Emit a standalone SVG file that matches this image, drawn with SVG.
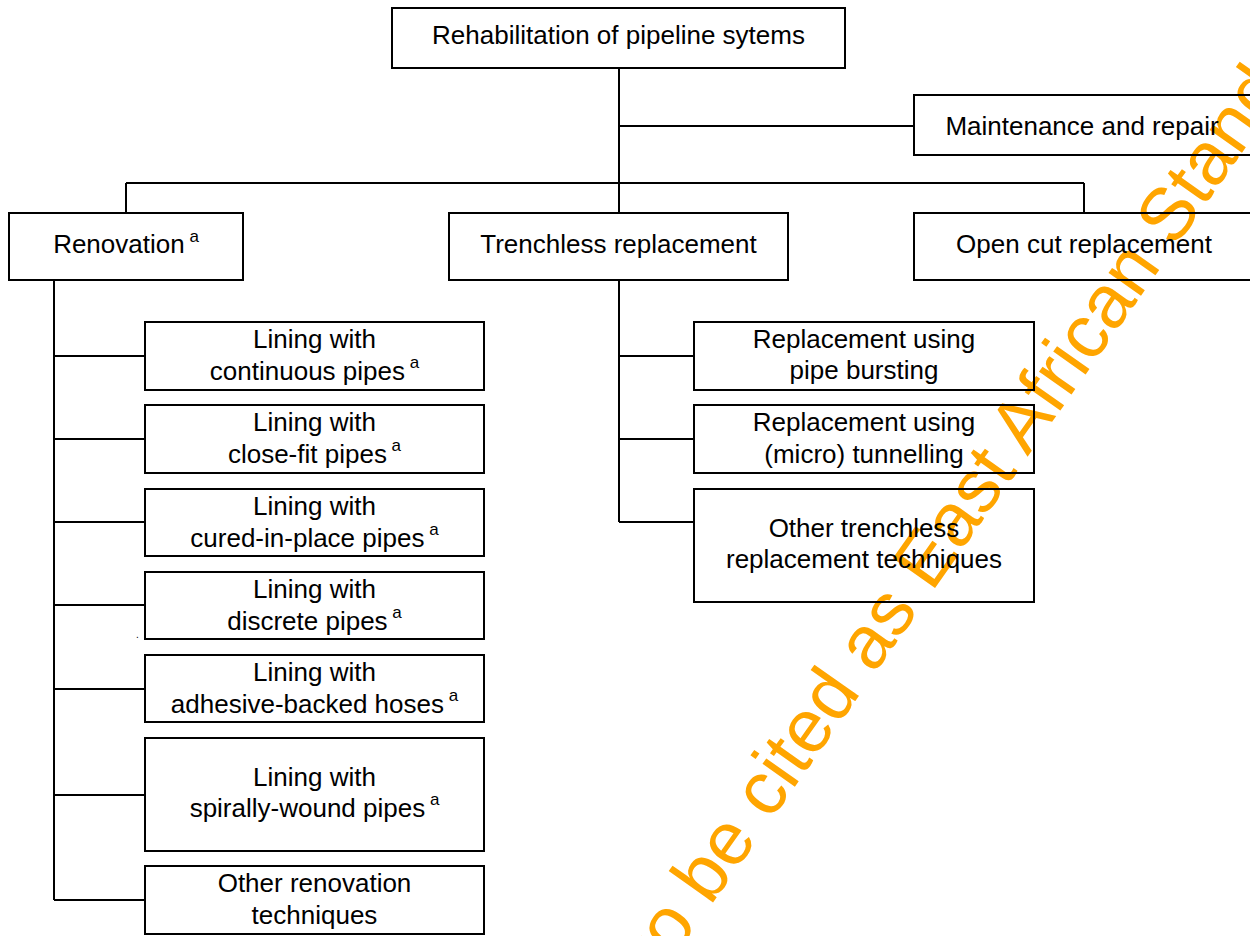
<svg xmlns="http://www.w3.org/2000/svg" width="1250" height="936" viewBox="0 0 1250 936">
<style>
.box{fill:none;stroke:#000;stroke-width:2}
.ln{fill:none;stroke:#000;stroke-width:2}
.t{font-family:"Liberation Sans",Arial,sans-serif;font-size:26px;fill:#000;text-anchor:middle}
.sup{font-size:17px}
.wm{font-family:"Liberation Sans",Arial,sans-serif;font-size:75px;fill:#FFA500}
</style>
<rect width="1250" height="936" fill="#fff"/>
<text class="wm" x="583" y="1087" transform="rotate(-54.8 583 1087)">Not to be cited as East African Standard</text>
<g id="connectors">
<path class="ln" d="M619 68V213M619 126H914M126 183H1084M126 183V213M1084 183V213"/>
<path class="ln" d="M54 280V900M54 356H145M54 439H145M54 522H145M54 605H145M54 689H145M54 795H145M54 900H145"/>
<path class="ln" d="M619 280V522M619 356H694M619 439H694M619 522H694"/>
</g>
<g id="n-root"><rect class="box" x="392" y="8" width="453" height="60"/><text class="t" x="618.5" y="44">Rehabilitation of pipeline sytems</text></g>
<g id="n-maint"><rect class="box" x="914" y="95" width="340" height="60"/><text class="t" x="1082" y="135">Maintenance and repair</text></g>
<g id="n-renov"><rect class="box" x="9" y="213" width="234" height="67"/><text class="t" x="126" y="253">Renovation<tspan class="sup" dy="-11"> a</tspan></text></g>
<g id="n-trench"><rect class="box" x="449" y="213" width="339" height="67"/><text class="t" x="618.5" y="253">Trenchless replacement</text></g>
<g id="n-open"><rect class="box" x="914" y="213" width="340" height="67"/><text class="t" x="1084" y="253">Open cut replacement</text></g>
<g id="n-l1"><rect class="box" x="145" y="322" width="339" height="68"/><text class="t" x="314.5" y="348">Lining with</text><text class="t" x="314.5" y="380">continuous pipes<tspan class="sup" dy="-12"> a</tspan></text></g>
<g id="n-l2"><rect class="box" x="145" y="405" width="339" height="68"/><text class="t" x="314.5" y="431">Lining with</text><text class="t" x="314.5" y="463">close-fit pipes<tspan class="sup" dy="-12"> a</tspan></text></g>
<g id="n-l3"><rect class="box" x="145" y="489" width="339" height="67"/><text class="t" x="314.5" y="515">Lining with</text><text class="t" x="314.5" y="547">cured-in-place pipes<tspan class="sup" dy="-12"> a</tspan></text></g>
<g id="n-l4"><rect class="box" x="145" y="572" width="339" height="67"/><text class="t" x="314.5" y="598">Lining with</text><text class="t" x="314.5" y="630">discrete pipes<tspan class="sup" dy="-12"> a</tspan></text></g>
<g id="n-l5"><rect class="box" x="145" y="655" width="339" height="67"/><text class="t" x="314.5" y="681">Lining with</text><text class="t" x="314.5" y="713">adhesive-backed hoses<tspan class="sup" dy="-12"> a</tspan></text></g>
<g id="n-l6"><rect class="box" x="145" y="738" width="339" height="113"/><text class="t" x="314.5" y="786">Lining with</text><text class="t" x="314.5" y="817">spirally-wound pipes<tspan class="sup" dy="-12"> a</tspan></text></g>
<g id="n-l7"><rect class="box" x="145" y="866" width="339" height="68"/><text class="t" x="314.5" y="892">Other renovation</text><text class="t" x="314.5" y="924">techniques</text></g>
<g id="n-t1"><rect class="box" x="694" y="322" width="340" height="68"/><text class="t" x="864" y="348">Replacement using</text><text class="t" x="864" y="379">pipe bursting</text></g>
<g id="n-t2"><rect class="box" x="694" y="405" width="340" height="68"/><text class="t" x="864" y="431">Replacement using</text><text class="t" x="864" y="463">(micro) tunnelling</text></g>
<g id="n-t3"><rect class="box" x="694" y="489" width="340" height="113"/><text class="t" x="864" y="537">Other trenchless</text><text class="t" x="864" y="568">replacement techniques</text></g>
<text x="136" y="638" font-family="Liberation Sans, Arial, sans-serif" font-size="10">.</text>
</svg>
